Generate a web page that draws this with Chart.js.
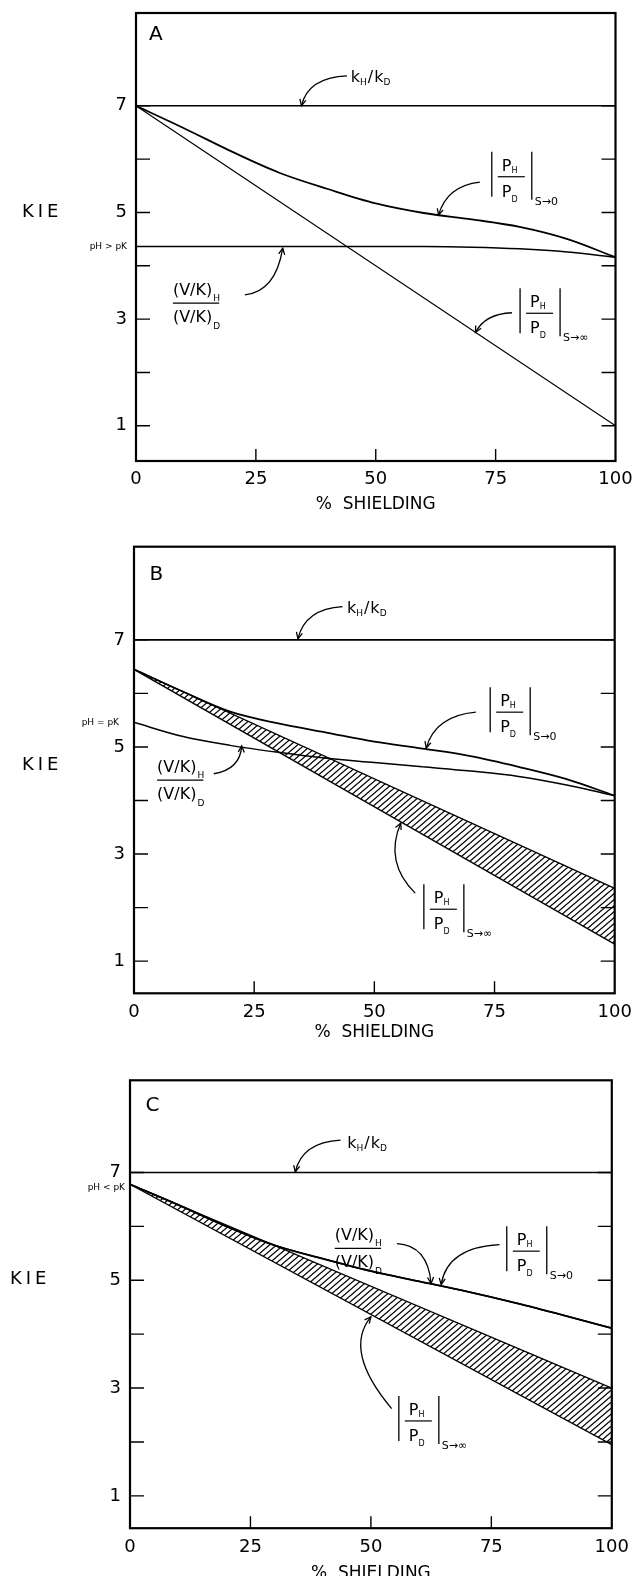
<!DOCTYPE html>
<html>
<head>
<meta charset="utf-8">
<script src="https://cdn.jsdelivr.net/npm/chart.js@4.4.1/dist/chart.umd.min.js"></script>
<style>
  body { margin: 0; background: #fff; }
  #wrap { position: relative; width: 632px; height: 1576px; }
  #wrap canvas { position: absolute; left: 0; }
</style>
</head>
<body>
<div id="wrap">
  <canvas id="panel-a" width="632" height="520" style="top:0px"></canvas>
  <canvas id="panel-b" width="632" height="530" style="top:520px"></canvas>
  <canvas id="panel-c" width="632" height="526" style="top:1050px"></canvas>
</div>
<script>
// % shielding grid used for the curved lines, and the ends of the straight ones
const shielding = [0, 10, 20, 30, 40, 50, 60, 70, 80, 90, 100];
const ends = [0, 100];
const xTicks = [0, 25, 50, 75, 100];
const yTicks = [1, 2, 3, 4, 5, 6, 7];
const yLabelled = [1, 3, 5, 7];

const kHkD = [7, 7];

// A  pH > pK
const aS0 = [7.0, 6.58, 6.14, 5.74, 5.44, 5.17, 4.99, 4.87, 4.73, 4.5, 4.16];
const aVK = [4.36, 4.36, 4.36, 4.36, 4.36, 4.36, 4.36, 4.35, 4.32, 4.26, 4.16];
const aSinf = [7.0, 1.0];

// B  pH = pK
const bS0 = [6.45, 6.04, 5.66, 5.44, 5.27, 5.10, 4.97, 4.83, 4.63, 4.40, 4.09];
const bVK = [5.46, 5.20, 5.03, 4.90, 4.79, 4.71, 4.63, 4.55, 4.45, 4.29, 4.09];
const bSinfHi = [6.45, 2.36];
const bSinfLo = [6.45, 1.32];

// C  pH < pK
const cS0 = [6.78, 6.40, 6.00, 5.65, 5.40, 5.17, 4.98, 4.79, 4.58, 4.35, 4.11];
const cVK = [6.78, 6.40, 6.00, 5.65, 5.40, 5.17, 4.98, 4.79, 4.58, 4.35, 4.11];
const cSinfHi = [6.78, 3.0];
const cSinfLo = [6.78, 1.95];

const FONT = '"DejaVu Sans", sans-serif';

function pts(xs, ys) {
  return xs.map((x, i) => ({ x: x, y: ys[i] }));
}

function line(xs, ys, w, extra) {
  return Object.assign({
    data: pts(xs, ys),
    borderColor: '#000',
    borderWidth: w,
    pointRadius: 0,
    fill: false,
    cubicInterpolationMode: 'monotone'
  }, extra || {});
}

function makeHatch() {
  const c = document.createElement('canvas');
  c.width = 7;
  c.height = 6;
  const g = c.getContext('2d');
  g.strokeStyle = '#000';
  g.lineWidth = 1.3;
  g.beginPath();
  [-7, 0, 7].forEach(k => {
    g.moveTo(k - 7, 12);
    g.lineTo(k + 14, -6);
  });
  g.stroke();
  return g.createPattern(c, 'repeat');
}

function px(chart, x, y) {
  return [chart.scales.x.getPixelForValue(x), chart.scales.y.getPixelForValue(y)];
}

function drawArrow(ctx, chart, a) {
  const [x0, y0] = px(chart, a[0], a[1]);
  const [cx, cy] = px(chart, a[2], a[3]);
  const [x1, y1] = px(chart, a[4], a[5]);
  ctx.lineWidth = 1.3;
  ctx.beginPath();
  ctx.moveTo(x0, y0);
  ctx.quadraticCurveTo(cx, cy, x1, y1);
  ctx.stroke();
  const ang = Math.atan2(y1 - cy, x1 - cx);
  ctx.beginPath();
  ctx.moveTo(x1 - 7 * Math.cos(ang - 0.45), y1 - 7 * Math.sin(ang - 0.45));
  ctx.lineTo(x1, y1);
  ctx.lineTo(x1 - 7 * Math.cos(ang + 0.45), y1 - 7 * Math.sin(ang + 0.45));
  ctx.stroke();
}

// text pieces: [string, size, dy, gap after]
function runText(ctx, x, base, parts) {
  let cx = x;
  parts.forEach(p => {
    ctx.font = p[1] + 'px ' + FONT;
    ctx.fillText(p[0], cx, base + (p[2] || 0));
    cx += ctx.measureText(p[0]).width + (p[3] || 0);
  });
}

function kLabel(ctx, x, yc) {
  runText(ctx, x, yc + 5, [['k', 16, 0, 0], ['H', 9, 3, 1], ['/', 16, 0, 1], ['k', 16, 0, 0], ['D', 9, 3, 0]]);
}

function absFrac(ctx, x, yc, sub) {
  ctx.lineWidth = 1.3;
  ctx.beginPath();
  ctx.moveTo(x, yc - 25); ctx.lineTo(x, yc + 20);
  ctx.moveTo(x + 40, yc - 25); ctx.lineTo(x + 40, yc + 23);
  ctx.stroke();
  ctx.lineWidth = 1.2;
  ctx.beginPath();
  ctx.moveTo(x + 6, yc); ctx.lineTo(x + 33, yc);
  ctx.stroke();
  runText(ctx, x + 10, yc - 6, [['P', 16, 0, 0], ['H', 8, 2]]);
  runText(ctx, x + 10, yc + 20, [['P', 16, 0, 0], ['D', 8, 5]]);
  ctx.font = '11px ' + FONT;
  ctx.fillText(sub, x + 43, yc + 28);
}

function vkFrac(ctx, x, ly) {
  ctx.font = '16px ' + FONT;
  const w = ctx.measureText('(V/K)').width;
  runText(ctx, x, ly - 8, [['(V/K)', 16, 0, 1], ['H', 9, 6]]);
  runText(ctx, x, ly + 19, [['(V/K)', 16, 0, 1], ['D', 9, 7]]);
  ctx.lineWidth = 1.2;
  ctx.beginPath();
  ctx.moveTo(x, ly); ctx.lineTo(x + w + 7, ly);
  ctx.stroke();
}

function panel(id, cfg) {
  const canvas = document.getElementById(id);
  const W = canvas.width, H = canvas.height;

  const datasets = [
    line(ends, kHkD, 1.6),
    line(shielding, cfg.s0, 1.8),
    line(shielding, cfg.vk, 1.5)
  ];
  if (cfg.sinfLo) {
    datasets.push(line(ends, cfg.sinfHi, 1.4));
    datasets.push(line(ends, cfg.sinfLo, 1.4, { fill: '-1', backgroundColor: makeHatch() }));
  } else {
    datasets.push(line(ends, cfg.sinfHi, 1.1));
  }

  const deco = {
    id: 'deco',
    afterDatasetsDraw(chart) {
      const ctx = chart.ctx;
      const a = chart.chartArea;
      const xs = chart.scales.x, ys = chart.scales.y;
      ctx.save();
      ctx.strokeStyle = '#000';
      ctx.fillStyle = '#000';

      // frame and inward ticks
      ctx.lineWidth = 2.2;
      ctx.strokeRect(a.left, a.top, a.right - a.left, a.bottom - a.top);
      ctx.lineWidth = 1.4;
      ctx.beginPath();
      yTicks.forEach(v => {
        const y = ys.getPixelForValue(v);
        ctx.moveTo(a.left, y); ctx.lineTo(a.left + 14, y);
        ctx.moveTo(a.right, y); ctx.lineTo(a.right - 14, y);
      });
      xTicks.slice(1, -1).forEach(v => {
        const x = xs.getPixelForValue(v);
        ctx.moveTo(x, a.bottom); ctx.lineTo(x, a.bottom - 12);
      });
      ctx.stroke();

      // texts
      ctx.textBaseline = 'middle';
      ctx.font = '20px ' + FONT;
      const [lx, ly] = px(chart, cfg.letter[0], cfg.letter[1]);
      ctx.fillText(cfg.letter[2], lx, ly);

      ctx.font = '18px ' + FONT;
      ctx.letterSpacing = '4px';
      ctx.fillText('KIE', cfg.kie[0], ys.getPixelForValue(cfg.kie[1]));
      ctx.letterSpacing = '0px';

      ctx.font = '9px ' + FONT;
      ctx.textAlign = 'right';
      ctx.fillText(cfg.ph[0], a.left - cfg.ph[2], ys.getPixelForValue(cfg.ph[1]));
      ctx.textAlign = 'left';
      ctx.textBaseline = 'alphabetic';

      let p = px(chart, cfg.kLab[0], cfg.kLab[1]);
      kLabel(ctx, p[0], p[1]);
      p = px(chart, cfg.s0Lab[0], cfg.s0Lab[1]);
      absFrac(ctx, p[0], p[1], 'S\u21920');
      p = px(chart, cfg.sinfLab[0], cfg.sinfLab[1]);
      absFrac(ctx, p[0], p[1], 'S\u2192\u221E');
      p = px(chart, cfg.vkLab[0], cfg.vkLab[1]);
      vkFrac(ctx, p[0], p[1]);

      cfg.arrows.forEach(ar => drawArrow(ctx, chart, ar));
      ctx.restore();
    }
  };

  return new Chart(canvas, {
    type: 'line',
    data: { datasets: datasets },
    options: {
      responsive: false,
      animation: false,
      layout: { padding: { left: 0, top: cfg.top, right: W - cfg.right, bottom: 0 } },
      plugins: { legend: { display: false }, tooltip: { enabled: false } },
      scales: {
        x: {
          type: 'linear',
          min: 0,
          max: 100,
          afterFit: s => {
            s.height = H - cfg.bottom;
            s.paddingLeft = 0;
            s.paddingRight = 0;
          },
          afterBuildTicks: s => { s.ticks = xTicks.map(v => ({ value: v })); },
          grid: { display: false, drawTicks: false },
          border: { display: false },
          ticks: { padding: 8, color: '#000', maxRotation: 0, autoSkip: false, font: { family: FONT, size: 18 } },
          title: {
            display: true,
            text: '%  SHIELDING',
            color: '#000',
            font: { family: FONT, size: 17, lineHeight: 1 },
            padding: { top: 0, bottom: cfg.titlePad }
          }
        },
        y: {
          type: 'linear',
          min: cfg.yMin,
          max: cfg.yMax,
          afterFit: s => {
            s.width = cfg.left;
            s.paddingTop = 0;
            s.paddingBottom = 0;
          },
          afterBuildTicks: s => { s.ticks = yTicks.map(v => ({ value: v })); },
          grid: { display: false, drawTicks: false },
          border: { display: false },
          ticks: {
            padding: 9,
            color: '#000',
            font: { family: FONT, size: 18 },
            callback: v => (yLabelled.includes(v) ? String(v) : '')
          }
        }
      }
    },
    plugins: [deco]
  });
}

panel('panel-a', {
  left: 136, right: 615.5, top: 13, bottom: 461, yMin: 0.34, yMax: 8.74, titlePad: 7,
  s0: aS0, vk: aVK, sinfHi: aSinf,
  letter: [2.7, 8.33, 'A'],
  kie: [22, 5.0],
  ph: ['pH > pK', 4.36, 9],
  kLab: [44.8, 7.54],
  s0Lab: [74.2, 5.67],
  sinfLab: [80.1, 3.11],
  vkLab: [7.7, 3.30],
  arrows: [
    [44.0, 7.56, 35.9, 7.53, 34.5, 7.0],
    [71.7, 5.57, 64.8, 5.50, 63.1, 4.95],
    [22.7, 3.455, 29.1, 3.51, 30.6, 4.33],
    [78.4, 3.12, 72.8, 3.10, 70.8, 2.75]
  ]
});

panel('panel-b', {
  left: 134, right: 614.7, top: 26.7, bottom: 473.3, yMin: 0.40, yMax: 8.74, titlePad: 8.5,
  s0: bS0, vk: bVK, sinfHi: bSinfHi, sinfLo: bSinfLo,
  letter: [3.2, 8.21, 'B'],
  kie: [22, 4.66],
  ph: ['pH = pK', 5.45, 15],
  kLab: [44.3, 7.60],
  s0Lab: [74.1, 5.65],
  sinfLab: [60.3, 1.97],
  vkLab: [4.8, 4.38],
  arrows: [
    [43.4, 7.62, 35.6, 7.58, 34.1, 7.02],
    [71.1, 5.65, 62.6, 5.58, 60.8, 4.98],
    [16.6, 4.50, 22.1, 4.58, 22.4, 5.02],
    [58.5, 2.27, 52.0, 2.85, 55.5, 3.58]
  ]
});

panel('panel-c', {
  left: 130, right: 611.8, top: 30.3, bottom: 478.2, yMin: 0.40, yMax: 8.71, titlePad: -6,
  s0: cS0, vk: cVK, sinfHi: cSinfHi, sinfLo: cSinfLo,
  letter: [3.2, 8.23, 'C'],
  kie: [10, 5.02],
  ph: ['pH < pK', 6.72, 5],
  kLab: [45.1, 7.55],
  s0Lab: [78.2, 5.54],
  sinfLab: [55.8, 2.39],
  vkLab: [42.5, 5.59],
  arrows: [
    [43.7, 7.60, 35.7, 7.56, 34.3, 7.01],
    [55.4, 5.68, 61.8, 5.65, 62.5, 4.94],
    [76.7, 5.66, 65.8, 5.61, 64.6, 4.92],
    [54.3, 2.62, 44.2, 3.69, 50.0, 4.32]
  ]
});
</script>
</body>
</html>
